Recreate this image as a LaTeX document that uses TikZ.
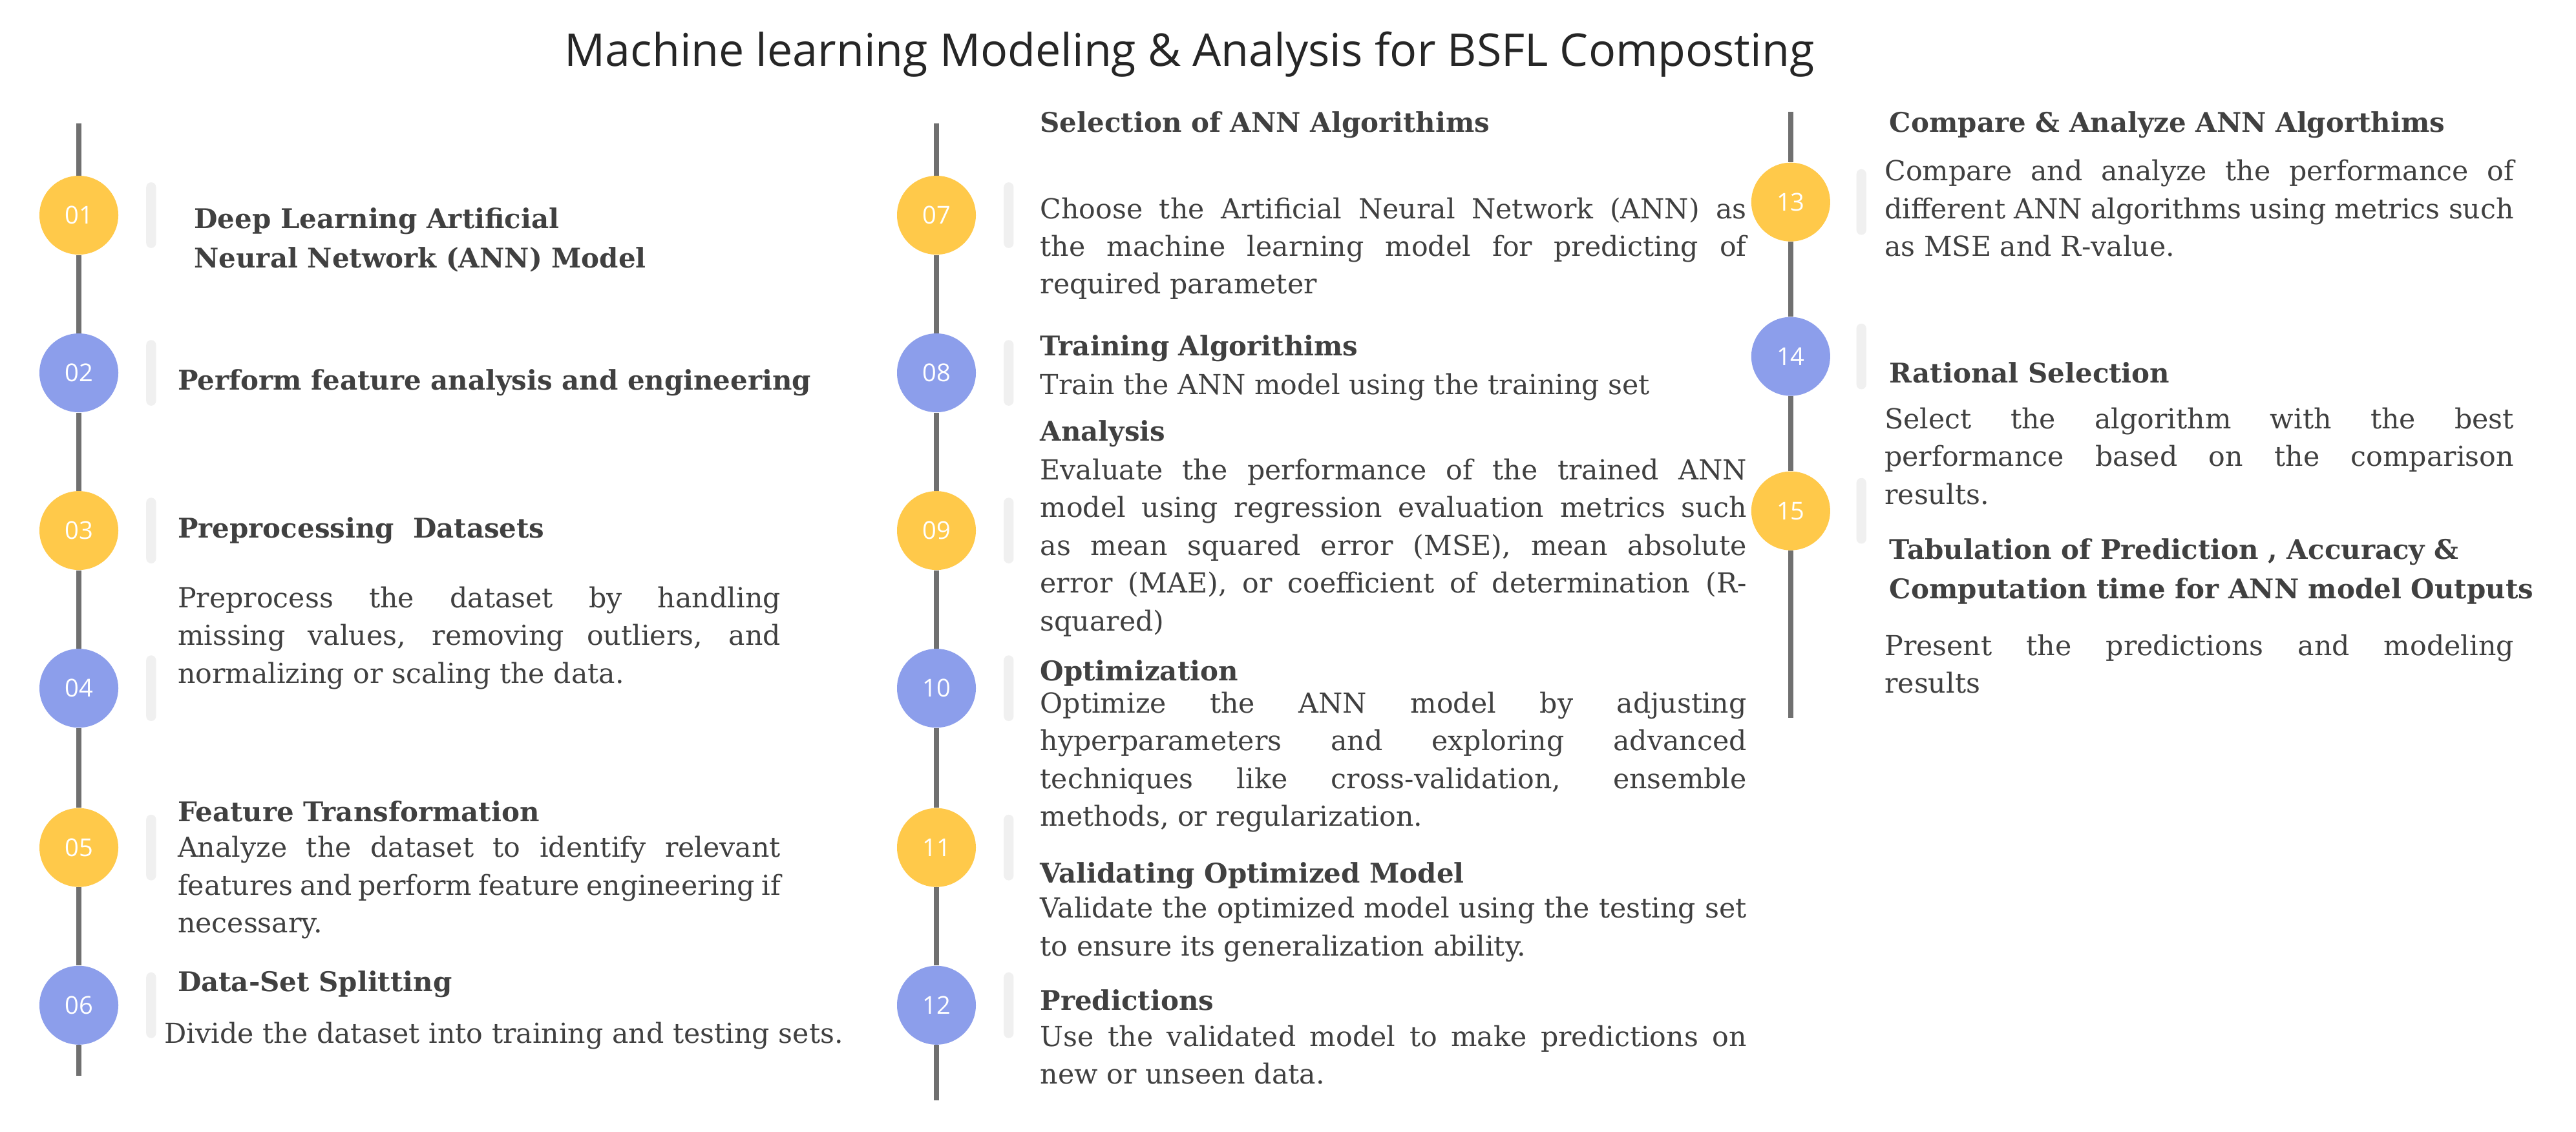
\documentclass[tikz,border=0pt]{standalone}
\usepackage{fontspec}
\setmainfont{DejaVu Serif}
\newfontfamily\ttl{Open Sans}
\definecolor{yel}{HTML}{FFC94A}
\definecolor{blu}{HTML}{8C9EEB}
\definecolor{txt}{HTML}{404040}
\definecolor{ln}{HTML}{707070}
\begin{document}
\begin{tikzpicture}[x=1pt,y=-1pt,
  dot/.style={circle,minimum size=48pt,inner sep=0pt,text=white,font=\ttl\fontsize{15}{15}\selectfont},
  Y/.style={dot,fill=yel},B/.style={dot,fill=blu},
  pill/.style={rounded corners=3pt,fill=black!6,minimum width=6pt,minimum height=40pt,inner sep=0pt},
  hd/.style={anchor=west,inner sep=0pt,text=txt,font=\bfseries\fontsize{16.5}{24}\selectfont,align=left},
  bd/.style={anchor=north west,inner sep=0pt,text=txt,font=\fontsize{16.8}{23}\selectfont,align=justify,text width=#1},
  ln/.style={draw=ln,line width=3pt}]
\useasboundingbox[fill=white](0,0) rectangle (1568,689);
\node[font=\ttl\fontsize{27.5}{30}\selectfont,text=black!85] (title) at (724,33) {Machine learning Modeling \& Analysis for BSFL Composting};
% column 1
\coordinate (t1) at (48,75); \coordinate (e1) at (48,655);
\node[Y] (c01) at (48,131) {01}; \node[B] (c02) at (48,227) {02};
\node[Y] (c03) at (48,323) {03}; \node[B] (c04) at (48,419) {04};
\node[Y] (c05) at (48,516) {05}; \node[B] (c06) at (48,612) {06};
\draw[ln] (t1)--(c01) (c01)--(c02) (c02)--(c03) (c03)--(c04) (c04)--(c05) (c05)--(c06) (c06)--(e1);
\foreach \n/\y in {p01/131,p02/227,p03/323,p04/419,p05/516,p06/612}{\node[pill] (\n) at (92,\y) {};}
\node[hd] (h01) at (118,146) {Deep Learning Artificial\\Neural Network (ANN) Model};
\node[hd] (h02) at (108,233) {Perform feature analysis and engineering};
\node[hd] (h03) at (108,323) {Preprocessing\ \ Datasets};
\node[bd=367pt] (b03) at (108,357) {Preprocess the dataset by handling\linebreak missing values, removing outliers, and\linebreak normalizing or scaling the data.};
\node[hd] (h05) at (108,494) {Feature Transformation};
\node[bd=367pt] (b05) at (108,509) {Analyze the dataset to identify relevant\linebreak features and perform feature engineering if\linebreak necessary.};
\node[hd] (h06) at (108,599) {Data-Set Splitting};
\node[bd=420pt] (b06) at (100,622) {Divide the dataset into training and testing sets.};
% column 2
\coordinate (t2) at (570,75); \coordinate (e2) at (570,670);
\node[Y] (c07) at (570,131) {07}; \node[B] (c08) at (570,227) {08};
\node[Y] (c09) at (570,323) {09}; \node[B] (c10) at (570,419) {10};
\node[Y] (c11) at (570,516) {11}; \node[B] (c12) at (570,612) {12};
\draw[ln] (t2)--(c07) (c07)--(c08) (c08)--(c09) (c09)--(c10) (c10)--(c11) (c11)--(c12) (c12)--(e2);
\foreach \n/\y in {p07/131,p08/227,p09/323,p10/419,p11/516,p12/612}{\node[pill] (\n) at (614,\y) {};}
\node[hd] (h07) at (633,76) {Selection of ANN Algorithims};
\node[bd=430pt] (b07) at (633,120) {Choose the Artificial Neural Network (ANN) as\linebreak the machine learning model for predicting of\linebreak required parameter};
\node[hd] (h08) at (633,212) {Training Algorithims};
\node[bd=430pt] (b08) at (633,227) {Train the ANN model using the training set};
\node[hd] (h09) at (633,264) {Analysis};
\node[bd=430pt] (b09) at (633,279) {Evaluate the performance of the trained ANN\linebreak model using regression evaluation metrics such\linebreak as mean squared error (MSE), mean absolute\linebreak error (MAE), or coefficient of determination (R-\linebreak squared)};
\node[hd] (h10) at (633,410) {Optimization};
\node[bd=430pt] (b10) at (633,421) {Optimize the ANN model by adjusting\linebreak hyperparameters and exploring advanced\linebreak techniques like cross-validation, ensemble\linebreak methods, or regularization.};
\node[hd] (h11) at (633,533) {Validating Optimized Model};
\node[bd=430pt] (b11) at (633,546) {Validate the optimized model using the testing set\linebreak to ensure its generalization ability.};
\node[hd] (h12) at (633,609) {Predictions};
\node[bd=430pt] (b12) at (633,624) {Use the validated model to make predictions on\linebreak new or unseen data.};
% column 3
\coordinate (t3) at (1090,68); \coordinate (e3) at (1090,437);
\node[Y] (c13) at (1090,123) {13}; \node[B] (c14) at (1090,217) {14}; \node[Y] (c15) at (1090,311) {15};
\draw[ln] (t3)--(c13) (c13)--(c14) (c14)--(c15) (c15)--(e3);
\foreach \n/\y in {p13/123,p14/217,p15/311}{\node[pill] (\n) at (1133,\y) {};}
\node[hd] (h13) at (1150,76) {Compare \& Analyze ANN Algorthims};
\node[bd=383pt] (b13) at (1147,97) {Compare and analyze the performance of\linebreak different ANN algorithms using metrics such\linebreak as MSE and R-value.};
\node[hd] (h14) at (1150,227) {Rational Selection};
\node[bd=383pt] (b14) at (1147,248) {Select the algorithm with the best\linebreak performance based on the comparison\linebreak results.};
\node[hd] (h15) at (1150,348) {Tabulation of Prediction , Accuracy \&\\Computation time for ANN model Outputs};
\node[bd=383pt] (b15) at (1147,386) {Present the predictions and modeling\linebreak results};
\end{tikzpicture}
\end{document}
